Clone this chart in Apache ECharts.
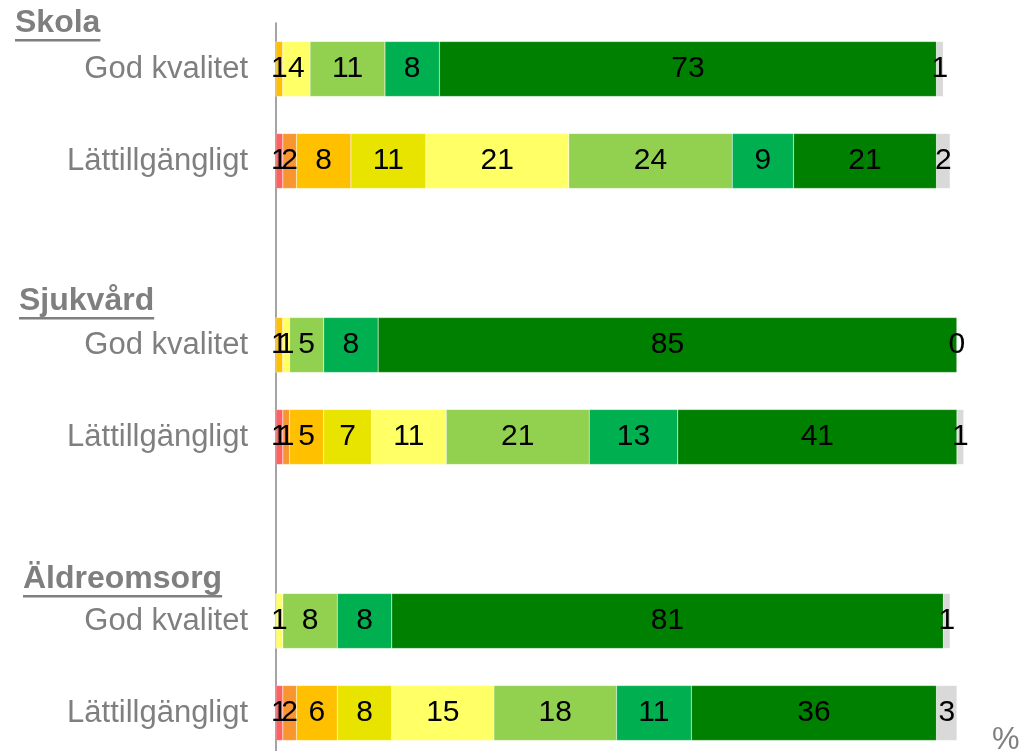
<!DOCTYPE html>
<html>
<head>
<meta charset="utf-8">
<script src="https://cdn.jsdelivr.net/npm/echarts@6/dist/echarts.min.js"></script>
<style>html,body{margin:0;padding:0;background:#fff;overflow:hidden}#c{width:1025px;height:760px}</style>
</head>
<body>
<div id="c"></div>
<script>
var categories = ['God kvalitet', 'Lättillgängligt', '', 'God kvalitet', 'Lättillgängligt', '', 'God kvalitet', 'Lättillgängligt'];
var groupHeaders = ['Skola', 'Sjukvård', 'Äldreomsorg'];
var seriesNames = ['s1', 's2', 's3', 's4', 's5', 's6', 's7', 's8', 's9'];
var red        = [0, 1, '-', 0, 1, '-', 0, 1];
var orangeRed  = [0, 2, '-', 0, 1, '-', 0, 2];
var orange     = [1, 8, '-', 1, 5, '-', 0, 6];
var darkYellow = [0, 11, '-', 0, 7, '-', 0, 8];
var lightYellow= [4, 21, '-', 1, 11, '-', 1, 15];
var lightGreen = [11, 24, '-', 5, 21, '-', 8, 18];
var green      = [8, 9, '-', 8, 13, '-', 8, 11];
var darkGreen  = [73, 21, '-', 85, 41, '-', 81, 36];
var gray       = [1, 2, '-', 0, 1, '-', 1, 3];

var values = [red, orangeRed, orange, darkYellow, lightYellow, lightGreen, green, darkGreen, gray];
var colors = ['#FF6161', '#F7962F', '#FFC000', '#E8E400', '#FFFF66', '#92D050', '#00B050', '#008000', '#D9D9D9'];

var chart = echarts.init(document.getElementById('c'));
var FONT = '"Liberation Sans", Arial, sans-serif';

var series = values.map(function (arr, i) {
  var isGray = i === values.length - 1;
  return {
    name: seriesNames[i],
    type: 'bar',
    stack: 'total',
    barWidth: 55,
    clip: false,
    data: arr,
    itemStyle: { color: colors[i], borderColor: 'rgba(255,255,255,0.35)', borderWidth: 0.5 },
    label: {
      show: true,
      position: 'inside',
      color: '#000',
      fontSize: 30,
      fontFamily: FONT,
      formatter: function (p) {
        if (p.value === 0) return isGray ? '0' : '';
        return String(p.value);
      }
    },
    emphasis: { disabled: true },
    animation: false
  };
});

var headerPos = [
  { x: 15, y: 23 },
  { x: 19, y: 301 },
  { x: 23, y: 579 }
];
var HFONT = 'bold 32px ' + FONT;
var graphics = [];
var ctx = document.createElement('canvas').getContext('2d');
ctx.font = HFONT;
groupHeaders.forEach(function (h, i) {
  graphics.push({
    type: 'text',
    x: headerPos[i].x,
    y: headerPos[i].y,
    style: { text: h, fill: '#7f7f7f', font: HFONT, verticalAlign: 'middle', align: 'left' }
  });
  graphics.push({
    type: 'rect',
    shape: { x: headerPos[i].x, y: headerPos[i].y + 16, width: ctx.measureText(h).width, height: 2.5 },
    style: { fill: '#7f7f7f' }
  });
});
graphics.push({
  type: 'text',
  x: 992,
  y: 740,
  style: { text: '%', fill: '#7f7f7f', font: '31px ' + FONT, verticalAlign: 'middle', align: 'left' }
});

chart.setOption({
  animation: false,
  grid: { left: 276, right: 34, top: 23, bottom: 1, containLabel: false },
  xAxis: {
    type: 'value', min: 0, max: 105,
    show: false
  },
  yAxis: {
    type: 'category',
    inverse: true,
    data: categories,
    axisLine: { show: true, lineStyle: { color: '#868686', width: 1.5 } },
    axisTick: { show: false },
    axisLabel: { color: '#7f7f7f', fontSize: 31, fontFamily: FONT, margin: 28 }
  },
  graphic: graphics,
  series: series
});
</script>
</body>
</html>
